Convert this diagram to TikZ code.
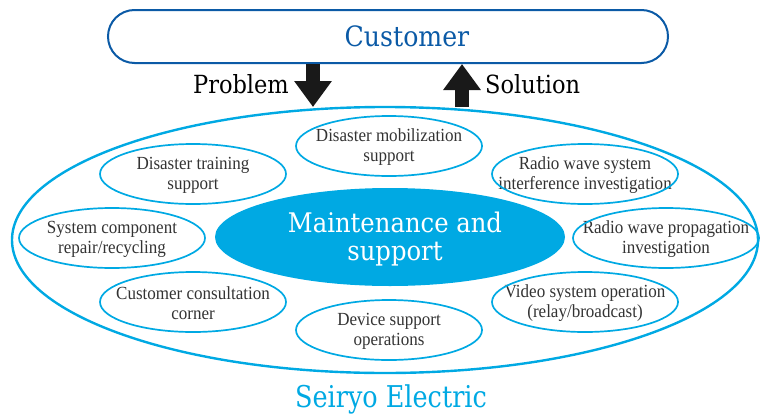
\documentclass[tikz,border=0pt]{standalone}
\usepackage{fontspec}
\setmainfont[FakeStretch=0.92]{Liberation Serif}
\newfontfamily\slab[FakeStretch=0.9]{DejaVu Serif}
\newfontfamily\slabn[FakeStretch=0.85]{DejaVu Serif}
\usetikzlibrary{arrows.meta}
\definecolor{cyanE}{HTML}{00A9E3}
\definecolor{navyB}{HTML}{0B5AA6}
\definecolor{txtG}{HTML}{333333}
\begin{document}
\begin{tikzpicture}[x=1pt,y=-1pt,
  itemtext/.style={align=center,inner sep=0pt,text=txtG,font=\fontsize{18.5}{20}\selectfont},
  ring/.style={draw=cyanE,line width=1.7pt},
  blockarrow/.style={draw=black!90,line width=14pt,-{Triangle[width=36pt,length=26pt]}},
  slabtext/.style={font=\slab\fontsize{25}{28}\selectfont,inner sep=0pt}]
\useasboundingbox (0,0) rectangle (762,415);
% customer
\node[draw=navyB,line width=2pt,rounded corners=26.5pt,minimum width=560pt,minimum height=53pt] (cust) at (388,36.5) {};
\node[text=navyB,inner sep=0pt,font=\slab\fontsize{28}{30}\selectfont] (custlabel) at (407,36.5) {Customer};
% arrows
\coordinate (pTip) at (313,107);
\coordinate (sBase) at (462,107);
\draw[blockarrow] (cust.south -| pTip) -- (pTip);
\draw[blockarrow] (sBase) -- (sBase |- cust.south);
\node[slabtext,anchor=base east] (prob) at (289,93) {Problem};
\node[slabtext,anchor=base west] (sol) at (485,93) {Solution};
% outer ellipse
\draw[cyanE,line width=2.4pt] (385,240) ellipse [x radius=373,y radius=133];
% central
\fill[cyanE] (390,237) ellipse [x radius=175,y radius=49];
\node[align=center,text=white,inner sep=0pt,font=\slab\fontsize{27}{28}\selectfont,anchor=base] (main) at (395,260) {Maintenance and\\support};
% items
\node[itemtext] (a1) at (389,147) {Disaster mobilization\\support};
\node[itemtext] (a2) at (585,175) {Radio wave system\\interference investigation};
\node[itemtext] (a3) at (666,239) {Radio wave propagation\\investigation};
\node[itemtext] (a4) at (585,303) {Video system operation\\(relay/broadcast)};
\node[itemtext] (a5) at (389,331) {Device support\\operations};
\node[itemtext] (a6) at (193,303) {Customer consultation\\corner};
\node[itemtext] (a7) at (112,239) {System component\\repair/recycling};
\node[itemtext] (a8) at (193,175) {Disaster training\\support};
\foreach \n in {a1,a2,a3,a4,a5,a6,a7,a8}
  \draw[ring] ([yshift=1pt]\n.center) ellipse [x radius=93,y radius=30];
% company
\node[text=cyanE,inner sep=0pt,anchor=base,font=\slabn\fontsize{30}{32}\selectfont] (comp) at (391,407) {Seiryo Electric};
\end{tikzpicture}
\end{document}
